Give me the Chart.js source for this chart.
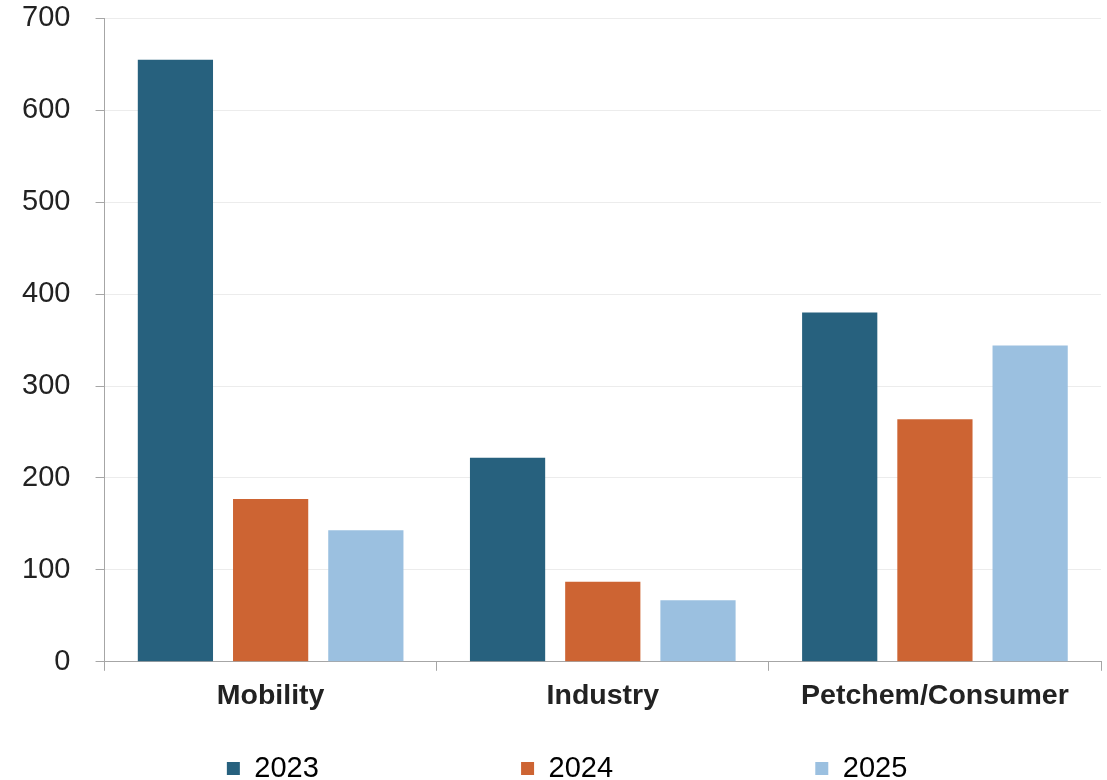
<!DOCTYPE html>
<html>
<head>
<meta charset="utf-8">
<script src="https://cdn.jsdelivr.net/npm/chart.js@4"></script>
<style>
  html, body { margin: 0; padding: 0; background: #fff; }
  #wrap { width: 1107px; height: 780px; position: relative; }
</style>
</head>
<body>
<div id="wrap"><canvas id="myChart"></canvas></div>
<script>
const categories = ['Mobility', 'Industry', 'Petchem/Consumer'];
const years = ['2023', '2024', '2025'];
const values2023 = [655, 222, 380];
const values2024 = [177, 87, 264];
const values2025 = [143, 67, 344];
const yTicks = [0, 100, 200, 300, 400, 500, 600, 700];

const colors = ['#27617e', '#cd6433', '#9bc0e0'];
const axisGray = '#a6a6a6';
const textColor = '#222222';
const fontFamily = 'Liberation Sans, Arial, sans-serif';

// legend items sit far apart in the original, pad the text with spaces
const legendGap = ' '.repeat(21);

const ctx = document.getElementById('myChart');

new Chart(ctx, {
    type: 'bar',
    data: {
        labels: categories,
        datasets: [
            { label: years[0], data: values2023, backgroundColor: colors[0] },
            { label: years[1], data: values2024, backgroundColor: colors[1] },
            { label: years[2], data: values2025, backgroundColor: colors[2] },
        ]
    },
    options: {
        responsive: true,
        maintainAspectRatio: false,
        animation: false,
        datasets: {
            bar: {
                categoryPercentage: 0.86,
                barPercentage: 0.79,
                borderWidth: 0,
            }
        },
        layout: {
            padding: { top: 1, right: 6, left: 21, bottom: -13 }
        },
        plugins: {
            tooltip: { enabled: false },
            legend: {
                position: 'bottom',
                labels: {
                    boxWidth: 13,
                    boxHeight: 13,
                    padding: 33,
                    color: textColor,
                    font: { family: fontFamily, size: 29 },
                    generateLabels: (chart) => {
                        // empty first item only nudges the row to the right
                        const items = [{
                            text: '', fillStyle: 'rgba(0,0,0,0)', strokeStyle: 'rgba(0,0,0,0)',
                            lineWidth: 0, hidden: false, datasetIndex: -1,
                        }];
                        chart.data.datasets.forEach((ds, i) => {
                            items.push({
                                text: i < 2 ? ds.label + legendGap : ds.label + '      ',
                                fillStyle: ds.backgroundColor,
                                strokeStyle: ds.backgroundColor,
                                lineWidth: 0,
                                hidden: false,
                                datasetIndex: i,
                            });
                        });
                        return items;
                    },
                },
                onClick: () => {},
            }
        },
        scales: {
            x: {
                border: { color: axisGray, width: 1 },
                grid: {
                    offset: true,
                    drawOnChartArea: false,
                    tickLength: 9,
                    tickColor: axisGray,
                },
                ticks: {
                    color: textColor,
                    padding: 8,
                    font: { family: fontFamily, size: 28.5, weight: 'bold' },
                }
            },
            y: {
                min: 0,
                max: 700,
                border: { color: axisGray, width: 1 },
                grid: {
                    color: '#ececec',
                    tickColor: axisGray,
                    tickLength: 9,
                },
                afterBuildTicks: (axis) => {
                    axis.ticks = yTicks.map(v => ({ value: v }));
                },
                ticks: {
                    color: textColor,
                    padding: 1,
                    // trailing spaces keep the gap to the tick marks without
                    // the extra top padding that ticks.padding brings
                    callback: (v) => v + '   ',
                    font: { family: fontFamily, size: 29 },
                }
            }
        }
    }
});
</script>
</body>
</html>
